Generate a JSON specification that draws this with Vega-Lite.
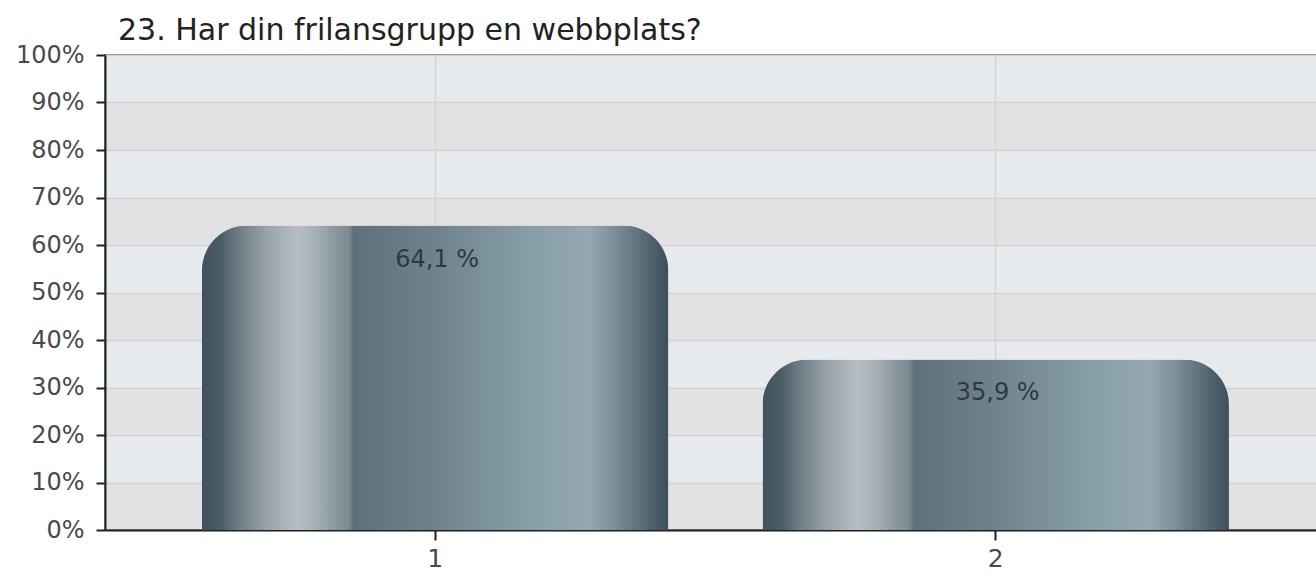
{
  "$schema": "https://vega.github.io/schema/vega-lite/v6.json",
  "width": 1212,
  "height": 475,
  "autosize": {"type": "none"},
  "padding": {"left": 105, "top": 55, "right": 0, "bottom": 50},
  "background": "white",
  "title": {
    "text": "23. Har din frilansgrupp en webbplats?",
    "anchor": "start",
    "frame": "group",
    "font": "DejaVu Sans",
    "fontSize": 30,
    "fontWeight": "normal",
    "color": "#222222",
    "dx": 13,
    "dy": 7,
    "offset": 4
  },
  "data": {
    "values": [
      {"svar": "1", "andel": 64.1, "etikett": "64,1 %"},
      {"svar": "2", "andel": 35.9, "etikett": "35,9 %"}
    ]
  },
  "config": {
    "view": {
      "stroke": "#8a8a8a",
      "strokeWidth": 2,
      "fill": {
        "gradient": "linear",
        "x1": 0, "y1": 0, "x2": 0, "y2": 1,
        "stops": [
          {"offset": 0, "color": "#e7eaed"},
          {"offset": 0.1, "color": "#e7eaed"},
          {"offset": 0.1, "color": "#e2e2e4"},
          {"offset": 0.2, "color": "#e2e2e4"},
          {"offset": 0.2, "color": "#e7eaed"},
          {"offset": 0.3, "color": "#e7eaed"},
          {"offset": 0.3, "color": "#e2e2e4"},
          {"offset": 0.4, "color": "#e2e2e4"},
          {"offset": 0.4, "color": "#e7eaed"},
          {"offset": 0.5, "color": "#e7eaed"},
          {"offset": 0.5, "color": "#e2e2e4"},
          {"offset": 0.6, "color": "#e2e2e4"},
          {"offset": 0.6, "color": "#e7eaed"},
          {"offset": 0.7, "color": "#e7eaed"},
          {"offset": 0.7, "color": "#e2e2e4"},
          {"offset": 0.8, "color": "#e2e2e4"},
          {"offset": 0.8, "color": "#e7eaed"},
          {"offset": 0.9, "color": "#e7eaed"},
          {"offset": 0.9, "color": "#e2e2e4"},
          {"offset": 1, "color": "#e2e2e4"}
        ]
      }
    },
    "axis": {
      "labelFont": "DejaVu Sans",
      "labelColor": "#4a4a4a",
      "domainColor": "#222222",
      "domainWidth": 2,
      "tickColor": "#222222",
      "tickWidth": 2
    }
  },
  "encoding": {
    "x": {
      "field": "svar",
      "type": "nominal",
      "scale": {"paddingInner": 0.168, "paddingOuter": 0.165, "align": 0.524},
      "axis": {
        "title": null,
        "labelAngle": 0,
        "tickSize": 10,
        "labelPadding": 6,
        "labelFontSize": 25,
        "grid": true,
        "gridColor": "#d5d5d7",
        "gridWidth": 1.5
      }
    },
    "y": {
      "field": "andel",
      "type": "quantitative",
      "scale": {"domain": [0, 100]},
      "axis": {
        "title": null,
        "values": [0, 10, 20, 30, 40, 50, 60, 70, 80, 90, 100],
        "labelExpr": "datum.value + '%'",
        "tickSize": 9,
        "labelPadding": 12,
        "labelFontSize": 24,
        "grid": true,
        "gridColor": "#d3d3d5",
        "gridWidth": 1.5
      }
    }
  },
  "layer": [
    {
      "mark": {
        "type": "bar",
        "cornerRadiusTopLeft": 45,
        "cornerRadiusTopRight": 45,
        "color": {
          "gradient": "linear",
          "x1": 0, "y1": 0, "x2": 1, "y2": 0,
          "stops": [
            {"offset": 0, "color": "#3f525c"},
            {"offset": 0.04, "color": "#4b5d67"},
            {"offset": 0.08, "color": "#6f7e86"},
            {"offset": 0.14, "color": "#9aa3a9"},
            {"offset": 0.2, "color": "#b6bcc3"},
            {"offset": 0.23, "color": "#aeb6bb"},
            {"offset": 0.29, "color": "#87959c"},
            {"offset": 0.315, "color": "#7c8a91"},
            {"offset": 0.325, "color": "#5d717c"},
            {"offset": 0.5, "color": "#6e838e"},
            {"offset": 0.71, "color": "#889ea9"},
            {"offset": 0.83, "color": "#93a8b3"},
            {"offset": 0.88, "color": "#7d929d"},
            {"offset": 0.94, "color": "#5c6f7a"},
            {"offset": 1, "color": "#3d4f59"}
          ]
        }
      }
    },
    {
      "mark": {
        "type": "text",
        "baseline": "middle",
        "dy": 34,
        "dx": 2,
        "font": "DejaVu Sans",
        "fontSize": 24,
        "color": "#2e3a40"
      },
      "encoding": {"text": {"field": "etikett"}}
    }
  ]
}
